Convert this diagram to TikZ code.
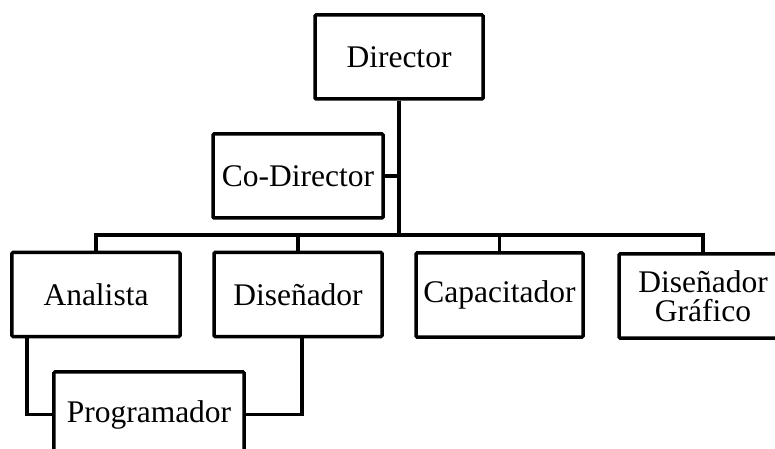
\documentclass[tikz,border=0pt]{standalone}
\usepackage{fontspec}
\setmainfont{Liberation Serif}
\begin{document}
\begin{tikzpicture}[x=1bp,y=-1bp,
  box/.style={draw, line width=3.5bp, rounded corners=1bp, minimum width=168bp, minimum height=84bp, inner sep=0pt, font=\fontsize{31.5bp}{29bp}\selectfont, align=center},
  conn/.style={line width=3.5bp}]
\useasboundingbox (0,0) rectangle (775,449);
\node[box] (dir) at (399,57) {Director};
\node[box, minimum width=170bp] (codir) at (298,176) {Co-Director};
\node[box] (ana) at (96,294.5) {Analista};
\node[box] (dis) at (298,294.5) {Diseñador};
\node[box, minimum width=167bp] (cap) at (499.5,295) {Capacitador};
\node[box] (graf) at (703,296) {Diseñador\\Gráfico};
\node[box, minimum width=190bp, minimum height=85bp] (prog) at (149,414.5) {Programador};
\coordinate (bus) at (399,235);
\draw[conn] (dir.south) -- (bus);
\draw[conn] (codir.east) -- (codir.east -| dir.south);
\draw[conn] (ana.north) |- (bus) -| (graf.north);
\draw[conn] (dis.north) -- (dis.north |- bus);
\draw[conn] (cap.north) -- (cap.north |- bus);
\draw[conn] ([xshift=17bp]ana.south west) |- (prog.west);
\draw[conn] ([xshift=4bp]dis.south) |- (prog.east);
\end{tikzpicture}
\end{document}
